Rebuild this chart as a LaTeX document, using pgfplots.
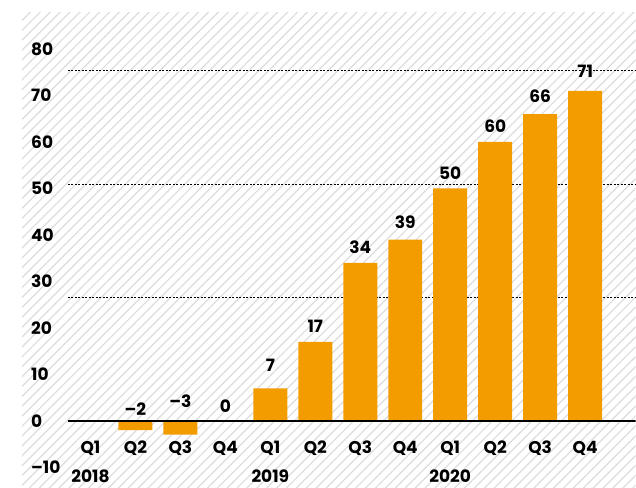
\documentclass[border=0pt]{standalone}
\usepackage{fontspec}
\setmainfont{Poppins}
\usepackage{pgfplots}
\pgfplotsset{compat=1.18}
\usetikzlibrary{patterns.meta}
\definecolor{barorange}{HTML}{F39C00}
\definecolor{hatchgray}{HTML}{DCDCDC}

\begin{document}
\begin{tikzpicture}
% page and hatched background
\path (0pt,0pt) rectangle (636pt,488pt);
\fill[pattern={Lines[angle=45,distance=7pt,line width=1.2pt]}, pattern color=hatchgray]
  (22pt,0pt) rectangle (636pt,475pt);
\begin{axis}[
    at={(68pt,0pt)}, anchor=south west,
    scale only axis,
    width=568pt, height=475pt,
    xmin=-0.5, xmax=12.122,
    ymin=-14.4, ymax=87.75,
    axis line style={draw=none},
    tick style={draw=none},
    ytick={-10,0,10,20,30,40,50,60,70,80},
    yticklabels={–10,0,10,20,30,40,50,60,70,80},
    yticklabel style={anchor=west, inner sep=0pt, xshift=-37pt,
      font=\fontsize{17}{20}\selectfont\bfseries},
    xtick={0,...,11},
    xticklabels={{Q1\\2018},Q2,Q3,Q4,{Q1\\2019},Q2,Q3,Q4,{Q1\\2020},Q2,Q3,Q4},
    xticklabel style={anchor=north, inner sep=0pt, yshift=47pt, align=center,
      font=\fontsize{17}{29.5}\selectfont\bfseries},
    extra y ticks={26.5,50.8,75.3},
    extra y tick labels={},
    extra y tick style={grid=major,
      major grid style={black, line width=0.8pt, dash pattern=on 2pt off 1.5pt}},
]
\addplot[ybar, bar width=34pt, fill=barorange, draw=none] coordinates {
  (1,-2) (2,-3) (3,0) (4,7) (5,17) (6,34) (7,39) (8,50) (9,60) (10,66) (11,71)
};
% value labels
\addplot[only marks, mark=none, point meta=explicit symbolic,
  nodes near coords,
  every node near coord/.style={anchor=center, inner sep=0pt,
    font=\fontsize{17}{20}\selectfont\bfseries}]
  coordinates {
  (1,2.4)[–2] (2,4.3)[–3] (3,3.1)[0] (4,12.0)[7] (5,20.4)[17] (6,37.4)[34]
  (7,42.8)[39] (8,53.3)[50] (9,63.4)[60] (10,69.9)[66] (11,75.1)[71]
};
\draw[black, line width=2pt] (axis cs:-0.5,0) -- (axis cs:12.122,0);
\end{axis}
\end{tikzpicture}
\end{document}
